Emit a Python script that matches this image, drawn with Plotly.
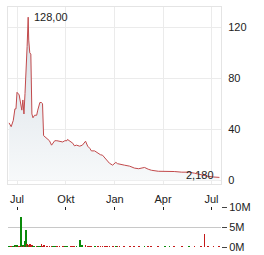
import plotly.graph_objects as go

dates = ["2023-06-16","2023-06-20","2023-06-24","2023-06-27","2023-06-29",
         "2023-07-01","2023-07-05","2023-07-08","2023-07-10","2023-07-12",
         "2023-07-14","2023-07-16","2023-07-18","2023-07-20","2023-07-22",
         "2023-07-23","2023-07-25","2023-07-27","2023-07-29","2023-07-31",
         "2023-08-03","2023-08-07","2023-08-09","2023-08-13","2023-08-16",
         "2023-08-18","2023-08-20","2023-08-26","2023-08-31","2023-09-04",
         "2023-09-06","2023-09-10","2023-09-14","2023-09-19","2023-09-25",
         "2023-09-29","2023-10-03","2023-10-04","2023-10-10","2023-10-14",
         "2023-10-17","2023-10-21","2023-10-27","2023-11-01","2023-11-07",
         "2023-11-11","2023-11-15","2023-11-18","2023-11-24","2023-11-30",
         "2023-12-05","2023-12-09","2023-12-13","2023-12-17","2023-12-22",
         "2023-12-28","2024-01-03","2024-01-06","2024-01-10","2024-01-19",
         "2024-01-29","2024-02-07","2024-02-15","2024-02-26","2024-03-04",
         "2024-03-10","2024-03-23","2024-04-04","2024-04-13","2024-04-22",
         "2024-05-06","2024-05-20","2024-05-30","2024-06-12","2024-06-18",
         "2024-06-25","2024-07-05","2024-07-16"]

prices = [45,42,47,56,56,
          69,67,58,55,63,
          52,68,84,105,128,
          110,100,99,52,49,
          51,51,55,61,61,
          60,35,33,31,27.5,
          29,31,31,30.5,30,
          31,31,32,30.5,29,
          27,27.5,26.7,27.5,30.6,
          26.7,25,23,23,21,
          20,19.6,17.5,15.7,13.3,
          11.8,14,13,12.5,11.8,
          11,9.5,9,10,8.6,
          7.8,7,7,7,6.8,
          6.3,6.3,5.5,4,3.6,
          3,2.5,2.18]

volumes_m = [0.2,0.2,0.2,0.3,0.2,
             0.3,0.2,7.5,0.2,0.3,
             0.2,1.5,4.2,0.7,0.6,
             0.3,0.8,0.2,0.3,0.2,
             0.2,0.2,0.2,0.2,0.8,
             0.2,0.3,0.2,0.2,0.2,
             0.2,0.2,0.2,0.2,0.2,
             0.2,0.2,0.2,0.2,0.2,
             0.2,0.2,1.7,0.3,0.4,
             0.2,0.2,0.2,0.2,0.2,
             0.2,0.2,0.2,0.2,0.2,
             0.2,0.2,0.2,0.2,0.2,
             0.2,0.2,0.2,0.2,0.2,
             0.2,0.2,0.2,0.2,0.2,
             0.2,0.2,0.2,0.2,3.2,
             0.2,0.2,0.2]

vol_up = [1,0,1,1,0, 1,0,1,0,1, 0,1,1,0,1, 0,0,0,0,1,
          1,0,1,1,0, 0,0,0,0,0, 1,1,0,0,0, 1,1,1,0,0,
          0,1,1,1,0, 0,0,0,1,0, 0,0,0,0,0, 0,1,0,0,0,
          0,0,0,1,0, 0,0,1,1,0, 0,1,0,0,0, 0,0,0]

x_tick_vals = ["2023-07-01","2023-10-01","2024-01-01","2024-04-01","2024-07-01"]
x_tick_text = ["Jul","Okt","Jan","Apr","Jul"]
y_tick_vals = [0,40,80,120]
vol_tick_vals = [0,5e6,1e7]
vol_tick_text = ["0M","5M","10M"]

x_range = ["2023-06-14","2024-07-19"]
font = dict(family="Liberation Sans, Arial, sans-serif", size=11, color="#222")

fig = go.Figure()
fig.add_trace(go.Scatter(
    x=dates, y=prices, mode="lines",
    line=dict(color="#c24a4c", width=1),
    fill="tozeroy",
    fillgradient=dict(type="vertical", start=0, stop=128,
                      colorscale=[[0, "rgb(247,249,250)"], [1, "rgb(214,222,229)"]]),
    xaxis="x", yaxis="y", hoverinfo="skip"))

fig.add_trace(go.Bar(
    x=dates, y=[v * 1e6 for v in volumes_m],
    marker=dict(color=["#0a8a0a" if u else "#c41a1a" for u in vol_up], line=dict(width=0)),
    width=1.6 * 86400000,
    xaxis="x2", yaxis="y2", hoverinfo="skip"))

peak_i = prices.index(max(prices))
fig.add_annotation(x=dates[peak_i], y=prices[peak_i], text="128,00",
                   xref="x", yref="y", showarrow=False, xanchor="left",
                   yanchor="middle", xshift=4, font=font)
fig.add_annotation(x=dates[-1], y=prices[-1], text="2,180",
                   xref="x", yref="y", showarrow=False, xanchor="right",
                   yanchor="middle", xshift=-3, yshift=2, font=font)

fig.update_layout(
    width=264, height=255,
    margin=dict(l=0, r=0, t=0, b=0, autoexpand=False),
    paper_bgcolor="white", plot_bgcolor="white",
    showlegend=False, font=font, bargap=0,
    xaxis=dict(domain=[8/264, 221/264], range=x_range, type="date",
               tickvals=x_tick_vals, ticktext=x_tick_text,
               showgrid=True, gridcolor="#ebebeb", gridwidth=1,
               showline=True, mirror=True, linecolor="#e4e4e4",
               ticks="", ticklabelstandoff=5, zeroline=False, anchor="y",
               automargin=False),
    yaxis=dict(domain=[(255-184)/255, (255-7)/255], range=[-3, 136],
               side="right", tickvals=y_tick_vals,
               showgrid=True, gridcolor="#ebebeb", gridwidth=1,
               showline=True, mirror=True, linecolor="#e4e4e4",
               ticks="", ticklabelstandoff=4, zeroline=False, anchor="x",
               automargin=False),
    xaxis2=dict(domain=[8/264, 221/264], range=x_range, type="date",
                tickvals=x_tick_vals, showticklabels=False,
                showgrid=False, side="top", ticks="inside", ticklen=3,
                tickcolor="#222", showline=False, zeroline=False, anchor="y2",
                automargin=False),
    yaxis2=dict(domain=[(255-247)/255, (255-207)/255], range=[0, 1e7],
                side="right", tickvals=vol_tick_vals, ticktext=vol_tick_text,
                showgrid=True, gridcolor="#c8c8c8", gridwidth=1,
                ticks="outside", ticklen=5, tickcolor="#444",
                showline=False, zeroline=False, anchor="x2",
                automargin=False),
)

fig.write_html("out.html")
